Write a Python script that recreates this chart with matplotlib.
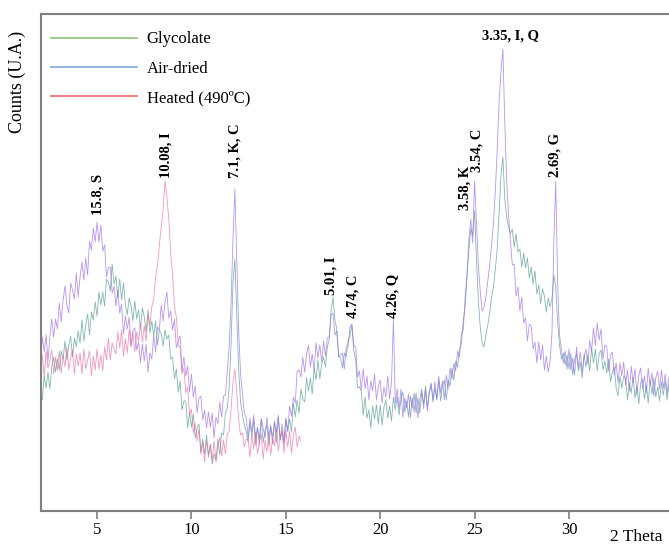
import numpy as np
import matplotlib
matplotlib.use("Agg")
import matplotlib.pyplot as plt
from matplotlib.lines import Line2D

plt.rcParams['font.family'] = ['Liberation Serif', 'DejaVu Serif']

# 2 theta grid, step 0.1 from 2.0
start, step = 2.0, 0.1

air_dried = [
    148, 174, 159, 176, 150, 174, 192, 174, 192, 182,
    208, 189, 211, 225, 206, 198, 228, 221, 212, 238,
    214, 234, 249, 231, 253, 236, 270, 261, 283, 269,
    289, 269, 286, 260, 266, 234, 243, 244, 218, 225,
    205, 221, 198, 207, 177, 195, 182, 194, 166, 180,
    183, 161, 169, 148, 167, 150, 167, 139, 158, 152,
    176, 159, 184, 181, 206, 190, 209, 219, 193, 200,
    181, 192, 163, 170, 175, 140, 154, 135, 145, 119,
    137, 114, 125, 98, 113, 115, 91, 101, 83, 99,
    84, 98, 73, 94, 87, 109, 94, 115, 116, 141,
    165, 208, 272, 322, 250, 182, 138, 118, 98, 94,
    73, 93, 79, 96, 72, 84, 66, 92, 83, 73,
    94, 74, 86, 67, 89, 79, 96, 71, 87, 69,
    93, 80, 105, 95, 114, 108, 140, 141, 134, 154,
    139, 157, 166, 144, 157, 140, 168, 153, 166, 149,
    170, 155, 173, 174, 196, 198, 176, 180, 154, 156,
    158, 142, 164, 165, 184, 187, 166, 164, 134, 140,
    121, 142, 122, 135, 111, 130, 120, 137, 111, 125,
    131, 108, 124, 114, 135, 112, 129, 192, 108, 122,
    102, 122, 94, 113, 103, 117, 93, 113, 99, 118,
    93, 112, 122, 102, 121, 100, 120, 128, 111, 129,
    111, 135, 118, 130, 111, 136, 122, 143, 132, 148,
    140, 160, 154, 177, 181, 213, 235, 272, 292, 268,
    330, 288, 246, 220, 200, 204, 214, 230, 246, 266,
    288, 320, 362, 410, 440, 462, 388, 330, 296, 270,
    246, 247, 215, 224, 200, 214, 188, 193, 170, 187,
    185, 162, 169, 148, 169, 151, 166, 141, 155, 139,
    150, 178, 270, 330, 228, 176, 162, 148, 160, 142,
    162, 141, 153, 136, 164, 144, 159, 139, 154, 162,
    147, 171, 160, 183, 166, 188, 171, 182, 152, 166,
    165, 140, 156, 159, 136, 148, 128, 148, 135, 149,
    126, 141, 120, 145, 128, 142, 116, 136, 143, 122,
    135, 118, 143, 126, 138, 115, 133, 140, 122, 141,
    123, 137, 117, 134,
]

glycolate = [
    124, 111, 135, 123, 139, 122, 144, 154, 139, 152,
    141, 160, 152, 170, 151, 165, 175, 154, 173, 164,
    180, 168, 191, 170, 186, 197, 176, 199, 191, 209,
    195, 219, 206, 219, 205, 232, 229, 220, 247, 227,
    235, 213, 232, 211, 228, 207, 196, 213, 205, 190,
    210, 192, 201, 182, 203, 194, 179, 201, 178, 190,
    175, 190, 166, 181, 177, 165, 181, 172, 176, 152,
    154, 132, 142, 119, 130, 101, 110, 110, 83, 99,
    84, 97, 73, 83, 87, 59, 72, 57, 76, 54,
    66, 47, 57, 51, 72, 56, 78, 76, 98, 103,
    125, 168, 228, 252, 198, 142, 110, 96, 86, 80,
    69, 89, 74, 91, 66, 83, 72, 92, 68, 81,
    86, 65, 84, 74, 90, 68, 93, 71, 80, 67,
    92, 79, 92, 79, 108, 94, 111, 98, 122, 112,
    109, 133, 120, 133, 117, 143, 131, 151, 132, 147,
    154, 144, 164, 172, 200, 214, 191, 182, 155, 153,
    143, 158, 154, 171, 175, 186, 160, 151, 123, 124,
    120, 96, 114, 93, 101, 83, 105, 92, 106, 87,
    106, 86, 104, 111, 93, 105, 90, 114, 101, 114,
    96, 112, 119, 99, 110, 94, 115, 103, 118, 98,
    113, 98, 119, 107, 125, 104, 117, 126, 109, 123,
    112, 131, 110, 125, 131, 111, 131, 125, 143, 131,
    150, 144, 162, 167, 190, 204, 237, 261, 282, 276,
    300, 252, 210, 184, 168, 164, 176, 186, 198, 214,
    224, 242, 262, 300, 336, 354, 312, 294, 284, 278,
    282, 264, 277, 259, 262, 244, 258, 243, 253, 233,
    244, 227, 240, 217, 226, 207, 222, 215, 199, 213,
    204, 212, 236, 224, 188, 166, 152, 158, 146, 156,
    142, 158, 136, 152, 157, 140, 149, 133, 157, 144,
    156, 140, 163, 148, 162, 140, 157, 161, 141, 150,
    138, 152, 129, 139, 144, 123, 115, 135, 123, 135,
    133, 111, 128, 118, 134, 113, 125, 107, 128, 132,
    112, 126, 108, 131, 117, 133, 114, 124, 110, 129,
    116, 130, 111, 127,
]

heated = [
    139, 156, 134, 160, 143, 151, 161, 137, 154, 141,
    160, 138, 155, 144, 164, 141, 153, 161, 137, 157,
    145, 158, 137, 162, 142, 151, 160, 135, 155, 141,
    162, 142, 156, 140, 164, 151, 173, 151, 168, 162,
    157, 179, 163, 181, 155, 172, 158, 181, 164, 178,
    159, 179, 170, 188, 169, 185, 170, 196, 186, 204,
    212, 234, 246, 266, 284, 302, 330, 314, 292, 258,
    236, 205, 194, 165, 164, 137, 143, 118, 124, 96,
    102, 78, 88, 70, 82, 57, 68, 49, 71, 56,
    67, 51, 70, 49, 64, 74, 55, 71, 57, 77,
    80, 102, 128, 142, 118, 92, 76, 78, 64, 72,
    72, 54, 76, 62, 79, 57, 69, 77, 52, 71,
    59, 78, 56, 73, 65, 82, 60, 73, 80, 58,
    81, 64, 80, 58, 76, 84, 64, 75, 70,
]

series_names = ["Glycolate", "Air-dried", "Heated (490ºC)"]

peak_labels = ["15.8, S", "10.08, I", "7.1, K, C", "5.01, I", "4.74, C",
               "4.26, Q", "3.58, K", "3.54, C", "2.69, G"]
peak_x = [5.05, 8.65, 12.31, 17.40, 18.56, 20.68, 24.50, 25.14, 29.27]
peak_y = [296, 333, 333, 216, 193, 193, 301, 339, 334]

top_label = "3.35, I, Q"
top_x, top_y = 26.88, 475

th_a = start + step * np.arange(len(air_dried))
th_g = start + step * np.arange(len(glycolate))
th_h = start + step * np.arange(len(heated))

fig = plt.figure(figsize=(6.69, 5.47), dpi=100)
ax = fig.add_axes([41 / 669, 36 / 547, 1 - 41 / 669, 497 / 547])

ax.plot(th_g, glycolate, color="#4f9a8c", lw=0.6, alpha=0.7)
ax.plot(th_a, air_dried, color="#9a68ee", lw=0.6, alpha=0.7)
ax.plot(th_h, heated, color="#ee5e9a", lw=0.6, alpha=0.65)

for lab, x, y in zip(peak_labels, peak_x, peak_y):
    ax.text(x, y, lab, rotation=90, ha="center", va="bottom",
            fontsize=10.5, fontweight="bold")
ax.text(top_x, top_y, top_label, ha="center", va="center",
        fontsize=10.5, fontweight="bold")

handles = [Line2D([], [], color="#8cc07a", lw=1.2),
           Line2D([], [], color="#7fa6d9", lw=1.2),
           Line2D([], [], color="#ee6a6a", lw=1.2)]
ax.legend(handles, series_names, loc="upper left", frameon=False,
          fontsize=12, handlelength=5.15, handletextpad=0.6,
          labelspacing=0.8, borderaxespad=0.2, bbox_to_anchor=(0.0, 0.985))

ax.set_xlim(2.03, 35.3)
ax.set_ylim(0, 497)
ax.set_xticks([5, 10, 15, 20, 25, 30])
ax.set_yticks([])
ax.tick_params(axis="x", direction="out", length=6, width=1.2,
               color="#7f7f7f", labelsize=12, pad=2)

for side in ["left", "bottom", "top"]:
    ax.spines[side].set_color("#7f7f7f")
    ax.spines[side].set_linewidth(1.5)
ax.spines["right"].set_visible(False)

ax.set_xlabel("2 Theta", fontsize=12.5, ha="right", va="bottom")
ax.xaxis.set_label_coords(0.99, -0.068)
ax.set_ylabel("Counts (U.A.)", fontsize=13)
ax.yaxis.set_label_coords(-0.024, 0.863)

fig.savefig("out.png", dpi=100)
